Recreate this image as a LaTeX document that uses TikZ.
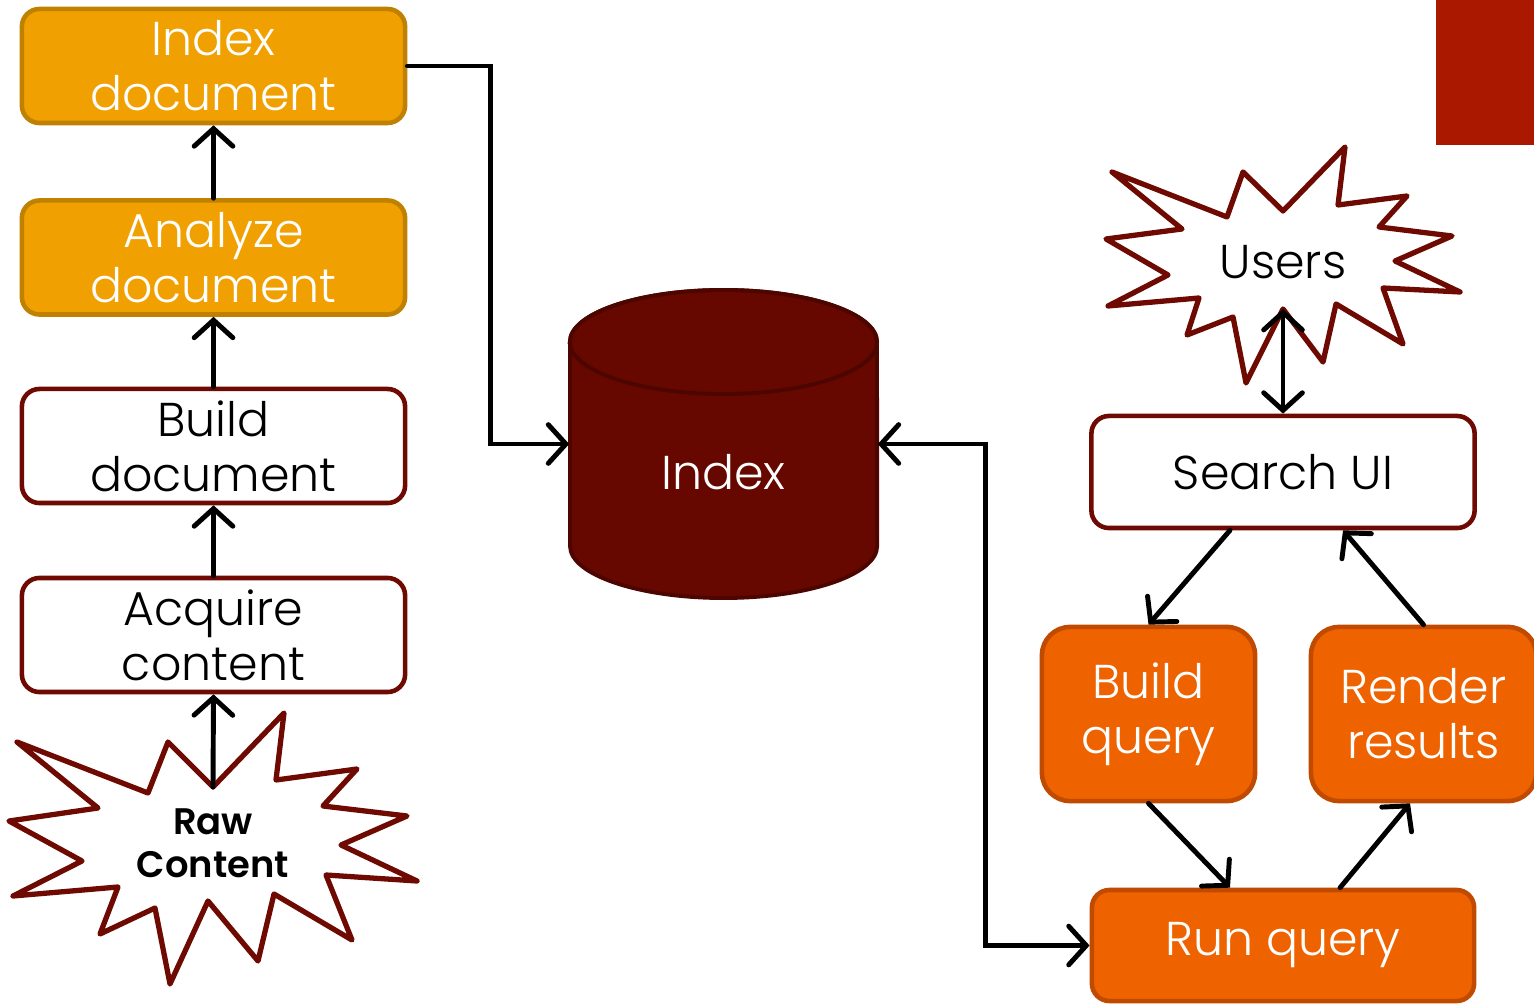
\documentclass[tikz,border=0pt]{standalone}
\usepackage{fontspec}
\setmainfont{Poppins}[UprightFont=* Light, BoldFont=* SemiBold]
\usetikzlibrary{arrows.meta}

\definecolor{gold}{HTML}{F0A000}
\definecolor{goldline}{HTML}{C08000}
\definecolor{qorange}{HTML}{EF6200}
\definecolor{qorangeline}{HTML}{C04A00}
\definecolor{wine}{HTML}{6E0A02}
\definecolor{dbfill}{HTML}{660800}
\definecolor{dbline}{HTML}{4D0500}
\definecolor{redbar}{HTML}{AA1800}

\begin{document}
\begin{tikzpicture}[
  x=0.01cm, y=-0.01cm,
  every node/.style={font=\fontsize{13.5}{15.6}\selectfont, align=center, inner sep=0pt},
  box/.style={rounded corners=5pt, line width=1.3pt, minimum width=3.83cm, minimum height=1.14cm},
  goldbox/.style={box, draw=goldline, fill=gold, text=white},
  plainbox/.style={box, draw=wine, fill=white},
  orangebox/.style={box, draw=qorangeline, fill=qorange, text=white, rounded corners=8pt},
  burst/.style={draw=wine, line width=1.5pt, fill=white, line join=round},
  flow/.style={line width=1.4pt, line cap=round, >={Straight Barb[length=5pt,width=11pt,line cap=round]}}]
\useasboundingbox (0,0) rectangle (1534,1004);
\fill[redbar] (1436,0) rectangle (1534,145);

% indexing side
\node[goldbox] (indexdoc) at (213.5,66) {Index\\document};
\node[goldbox] (analyze) at (213.5,257.5) {Analyze\\document};
\node[plainbox] (builddoc) at (213.5,446) {Build\\document};
\node[plainbox] (acquire) at (213.5,635) {Acquire\\content};

\draw[burst] (17,742) -- (148,793) -- (168,742) -- (213,787) -- (284,713) -- (276,780)
  -- (357,769) -- (323,806) -- (407,816) -- (341,845) -- (417,881) -- (326,875)
  -- (352,940) -- (274,894) -- (258,961) -- (208,901) -- (170,984) -- (155,908)
  -- (100,934) -- (118,887) -- (13,896) -- (82,861) -- (9,821) -- (98,808) -- cycle;
\node[font=\fontsize{10.5}{12.2}\selectfont\bfseries] (raw) at (213,843) {Raw\\Content};
\coordinate (rawtip) at (213,787);

% the index
\path[fill=dbfill, draw=dbline, line width=1.1pt] (570,342) -- (570,546)
  arc (180:360:1.535cm and 0.52cm) -- (877,342) arc (0:180:1.535cm and 0.52cm) -- cycle;
\draw[dbline, line width=1.1pt] (723.5,342) ellipse [x radius=1.535cm, y radius=0.52cm];
\node[minimum width=3.07cm, minimum height=3.08cm] (idx) at (723.5,444) {};
\node[text=white] at (723.5,472) {Index};

% search side
\draw[burst] (1112,172) -- (1227,217) -- (1243,172) -- (1283,211) -- (1345,147) -- (1338,205)
  -- (1407,196) -- (1379,227) -- (1452,236) -- (1395,261) -- (1460,292) -- (1383,288)
  -- (1403,344) -- (1336,304) -- (1323,362) -- (1283,309) -- (1246,383) -- (1233,317)
  -- (1187,335) -- (1199,298) -- (1108,306) -- (1168,275) -- (1106,239) -- (1182,229) -- cycle;
\node (users) at (1283,262) {Users};
\coordinate (userstip) at (1283,309);

\node[plainbox, minimum height=1.12cm] (search) at (1283,472) {Search UI};
\node[orangebox, minimum width=2.13cm, minimum height=1.74cm] (buildq) at (1148.5,714) {Build\\query};
\node[orangebox, minimum width=2.25cm, minimum height=1.74cm] (render) at (1423.5,714) {Render\\results};
\node[orangebox, minimum width=3.82cm, minimum height=1.11cm, rounded corners=5pt] (runq) at (1283,945.5) {Run query};

% connectors
\draw[flow,->] (rawtip) -- (acquire.south);
\draw[flow,->] (acquire.north) -- (builddoc.south);
\draw[flow,->] (builddoc.north) -- (analyze.south);
\draw[flow,->] (analyze.north) -- (indexdoc.south);
\draw[flow,->] (indexdoc.east) -- ++(83,0) |- (idx.west);
\draw[flow,<->] (idx.east) -- ++(108,0) |- (runq.west);
\draw[flow,<->] (userstip) -- (search.north);
\draw[flow,->] ([xshift=-0.53cm]search.south) -- (buildq.north);
\draw[flow,->] (render.north) -- ([xshift=0.6cm]search.south);
\draw[flow,->] (buildq.south) -- ([xshift=-0.53cm]runq.north);
\draw[flow,->] ([xshift=0.57cm]runq.north) -- ([xshift=-0.135cm]render.south);
\end{tikzpicture}
\end{document}
